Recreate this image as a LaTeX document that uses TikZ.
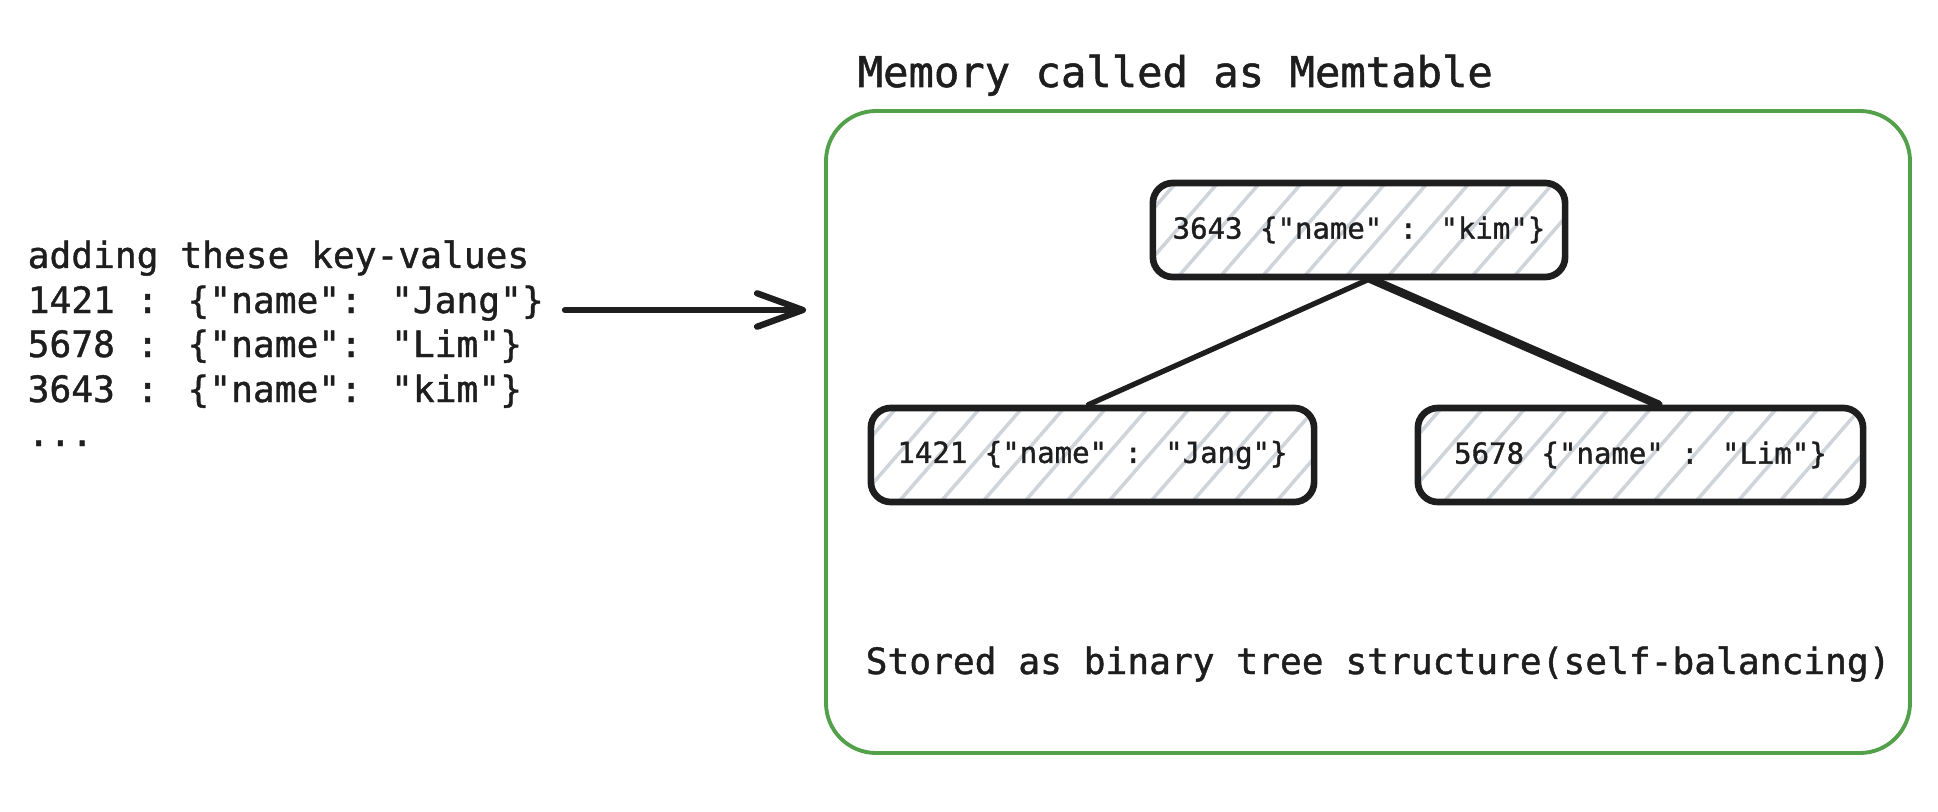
\documentclass[tikz,border=0pt]{standalone}
\usepackage{fontspec}
\newfontfamily\mono[FakeBold=1.2]{DejaVu Sans Mono}
\usetikzlibrary{arrows.meta,patterns.meta,calc}
\definecolor{ink}{HTML}{1E1E1E}
\definecolor{memgreen}{HTML}{52A04A}
\definecolor{hatch}{HTML}{CED4DA}
\begin{document}
\begin{tikzpicture}[x=0.01cm,y=-0.01cm,
  txt/.style={inner sep=0pt,anchor=base west,text=ink,font=\mono\fontsize{10.3pt}{12.6pt}\selectfont},
  ttl/.style={inner sep=0pt,anchor=base west,text=ink,font=\mono\fontsize{12pt}{14pt}\selectfont},
  kvbox/.style={draw=ink,line width=1.9pt,rounded corners=0.2cm,inner sep=0pt,
    minimum height=0.94cm,text=ink,font=\mono\fontsize{8.25pt}{10pt}\selectfont,
    pattern={Lines[angle=49,distance=9pt,line width=1pt]},pattern color=hatch},
  link/.style={draw=ink,line cap=round}
]
\useasboundingbox (0,0) rectangle (1938,812);
% left text
\node[txt] (kv1) at (27,268) {adding these key-values};
\node[txt] (kv2) at (27,313) {1421 : \{"name": "Jang"\}};
\node[txt] (kv3) at (27,357) {5678 : \{"name": "Lim"\}};
\node[txt] (kv4) at (27,402) {3643 : \{"name": "kim"\}};
\node[txt] (kv5) at (27,446) {...};
% arrow
\coordinate (a1) at (565,310);
\coordinate (a2) at (806,310);
\draw[link,line width=1.8pt,-{Straight Barb[length=13pt,width=9.5pt,line width=1.8pt,round]}] (a1) -- (a2);
% memtable
\node[ttl] (title) at (857,87) {Memory called as Memtable};
\draw[memgreen,line width=1.1pt,rounded corners=0.5cm] (826,111) rectangle (1910,753);
% tree nodes
\node[kvbox,minimum width=4.12cm] (top) at (1359,230) {3643 \{"name" : "kim"\}};
\node[kvbox,minimum width=4.43cm] (left) at (1092.5,455) {1421 \{"name" : "Jang"\}};
\node[kvbox,minimum width=4.45cm] (right) at (1640.5,455) {5678 \{"name" : "Lim"\}};
\draw[link,line width=1.5pt] ($(top.south)+(11,0)$) -- ($(left.north)+(-4,0)$);
\draw[link,line width=2.4pt] ($(top.south)+(11,0)$) -- ($(right.north)+(18,0)$);
\node[txt] (note) at (865,674) {Stored as binary tree structure(self-balancing)};
\end{tikzpicture}
\end{document}
